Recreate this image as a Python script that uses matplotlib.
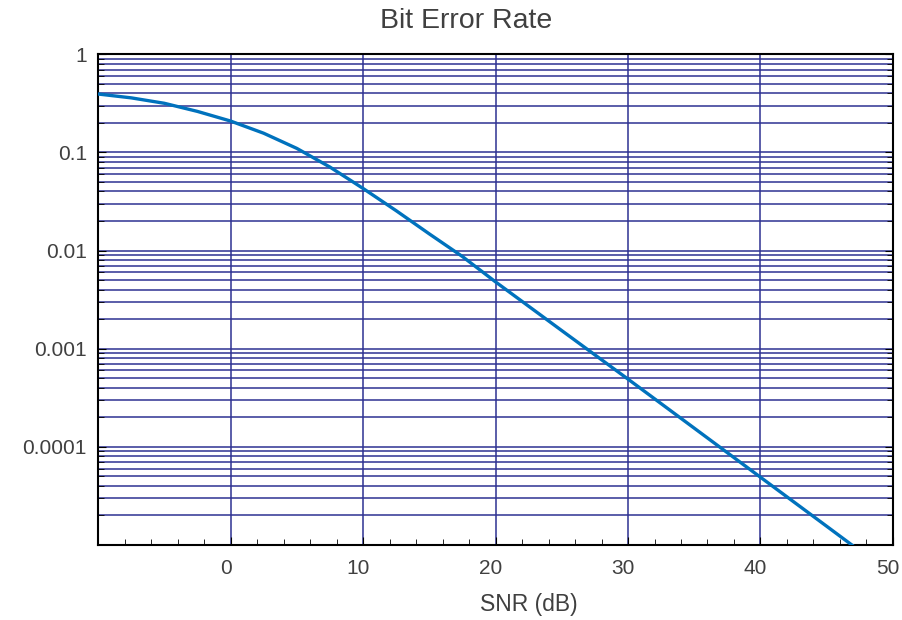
import matplotlib
matplotlib.use("Agg")
import matplotlib.pyplot as plt
from matplotlib.ticker import FixedLocator, MultipleLocator, LogLocator, NullFormatter
from matplotlib.transforms import ScaledTranslation

# values
snr_db = [-10, -7.5, -5, -2.5, 0, 2.5, 5, 7.5, 10, 12.5, 15, 17.5, 20, 25, 30, 35, 40, 45, 47.5]
ber = [0.394, 0.36, 0.317, 0.262, 0.209, 0.157, 0.110, 0.071, 0.043, 0.0255, 0.0148,
       0.0087, 0.0048, 0.00153, 0.00049, 0.000155, 0.000049, 0.0000155, 0.0000087]

y_ticks = [1, 0.1, 0.01, 0.001, 0.0001]
y_tick_labels = ["1", "0.1", "0.01", "0.001", "0.0001"]
x_ticks = [0, 10, 20, 30, 40, 50]

GRID = "#2E3192"
LINE = "#0072BD"
TEXT = "#404040"

plt.rcParams["font.family"] = ["Liberation Sans", "DejaVu Sans"]

fig = plt.figure(figsize=(9.02, 6.2), dpi=100)
ax = fig.add_axes([0.1087, 0.121, 0.8813, 0.7914])

ax.plot(snr_db, ber, color=LINE, linewidth=2.4, zorder=3)

ax.set_yscale("log")
ax.set_xlim(-10, 50)
ax.set_ylim(1e-5, 1)

ax.xaxis.set_major_locator(FixedLocator(x_ticks))
ax.xaxis.set_minor_locator(MultipleLocator(2))
ax.yaxis.set_major_locator(FixedLocator(y_ticks))
ax.set_yticklabels(y_tick_labels)
ax.yaxis.set_minor_locator(LogLocator(base=10, subs=range(2, 10), numticks=20))
ax.yaxis.set_minor_formatter(NullFormatter())

ax.grid(True, which="major", axis="x", color=GRID, linewidth=1.1)
ax.grid(True, which="both", axis="y", color=GRID, linewidth=1.1)

ax.tick_params(axis="x", which="both", direction="in", bottom=True, top=False,
               colors="black", labelcolor=TEXT, labelsize=15, pad=10)
ax.tick_params(axis="x", which="major", length=6)
ax.tick_params(axis="x", which="minor", length=4)
ax.tick_params(axis="y", which="both", direction="in", left=True, right=True,
               colors="black", labelcolor=TEXT, labelsize=15, pad=8)
ax.tick_params(axis="y", which="major", length=6)
ax.tick_params(axis="y", which="minor", length=4)

# x tick labels sit a few pixels left of their ticks in the reference
shift = ScaledTranslation(-5 / 100, 0, fig.dpi_scale_trans)
for lbl in ax.get_xticklabels():
    lbl.set_transform(lbl.get_transform() + shift)

for spine in ax.spines.values():
    spine.set_color("black")
    spine.set_linewidth(1.5)

fig.text(466 / 902, 1 - 21 / 620, "Bit Error Rate", fontsize=20.5, color=TEXT,
         ha="center", va="center")
fig.text(529 / 902, 1 - 605 / 620, "SNR (dB)", fontsize=16.5, color=TEXT,
         ha="center", va="center")

fig.savefig("out.png", dpi=100)
